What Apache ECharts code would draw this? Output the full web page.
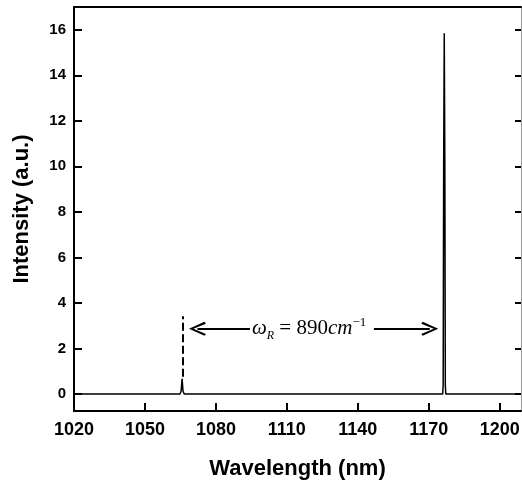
<!DOCTYPE html>
<html lang="en">
  <head>
    <meta charset="UTF-8" />
    <title>Raman spectrum</title>
    <style>
      html, body { margin: 0; padding: 0; background: #fff; }
      #chart { width: 522px; height: 484px; }
    </style>
  </head>
  <body>
    <div id="chart"></div>
    <script src="https://cdn.jsdelivr.net/npm/echarts@6/dist/echarts.min.js"></script>
    <script>
      // spectrum
      const wavelength = [1020, 1064.8, 1065.3, 1065.7, 1066.1, 1066.6, 1175.9, 1176.1, 1176.3, 1176.55, 1176.8, 1177.0, 1177.2, 1209];
      const intensity = [0, 0, 0.12, 0.66, 0.12, 0, 0, 0.4, 10, 15.85, 10, 0.4, 0, 0];

      const xTicks = [1020, 1050, 1080, 1110, 1140, 1170, 1200];
      const yTicks = [0, 2, 4, 6, 8, 10, 12, 14, 16];

      // annotation: dashed marker at the pump line, arrows and label
      const markerX = 1065.8;
      const markerY = [0.75, 3.41];
      const arrowY = 2.86;
      const leftArrow = [1094.4, 1072.2];
      const rightArrow = [1146.8, 1170.4];
      const labelPos = [1119.4, 2.86];

      const chevron = "path://M7,0 L14,15.5 L12.2,17 L7,4.5 L1.8,17 L0,15.5 Z";
      const sans = "Liberation Sans, Arial, sans-serif";
      const serif = "Liberation Serif, Times New Roman, serif";

      const chart = echarts.init(document.getElementById("chart"));
      const option = {
        animation: false,
        grid: { left: 74, right: 1, top: 7, bottom: 73, outerBoundsMode: "none" },
        xAxis: [
          {
            type: "value",
            min: 1020,
            max: 1209,
            name: "Wavelength (nm)",
            nameLocation: "middle",
            nameGap: 47,
            nameTextStyle: { fontFamily: sans, fontWeight: "bold", fontSize: 22, color: "#000" },
            axisLine: { onZero: false, lineStyle: { color: "#000", width: 2 } },
            axisTick: { inside: true, length: 8, lineStyle: { color: "#000", width: 2 }, customValues: xTicks },
            axisLabel: {
              customValues: xTicks,
              formatter: (v) => String(v),
              margin: 10,
              fontFamily: sans,
              fontWeight: "bold",
              fontSize: 18,
              color: "#000"
            },
            splitLine: { show: false }
          },
          {
            type: "value",
            position: "top",
            min: 1020,
            max: 1209,
            axisLine: { onZero: false, lineStyle: { color: "#000", width: 2 } },
            axisTick: { show: false },
            axisLabel: { show: false },
            splitLine: { show: false }
          }
        ],
        yAxis: [
          {
            type: "value",
            min: -0.75,
            max: 17,
            name: "Intensity (a.u.)",
            nameLocation: "middle",
            nameGap: 41,
            nameTextStyle: { fontFamily: sans, fontWeight: "bold", fontSize: 22, color: "#000" },
            axisLine: { show: true, onZero: false, lineStyle: { color: "#000", width: 2 } },
            axisTick: { show: true, inside: true, length: 8, lineStyle: { color: "#000", width: 2 }, customValues: yTicks },
            axisLabel: { customValues: yTicks, margin: 8, fontFamily: sans, fontWeight: "bold", fontSize: 15, color: "#000" },
            splitLine: { show: false }
          },
          {
            type: "value",
            position: "right",
            min: -0.75,
            max: 17,
            axisLine: { show: true, onZero: false, lineStyle: { color: "#999", width: 1 } },
            axisTick: { show: true, inside: true, length: 6, lineStyle: { color: "#000", width: 2 }, customValues: yTicks },
            axisLabel: { show: false },
            splitLine: { show: false }
          }
        ],
        series: [
          {
            type: "line",
            data: wavelength.map((w, i) => [w, intensity[i]]),
            showSymbol: false,
            lineStyle: { color: "#000", width: 1.5 },
            markLine: {
              silent: true,
              symbol: "none",
              label: { show: false },
              lineStyle: { color: "#000", width: 2, type: "solid" },
              data: [
                [
                  { coord: [markerX, markerY[0]], lineStyle: { type: [8, 3.5], width: 2, color: "#000" } },
                  { coord: [markerX, markerY[1]] }
                ],
                [
                  { coord: [leftArrow[0], arrowY], symbol: "none" },
                  { coord: [leftArrow[1], arrowY], symbol: chevron, symbolSize: [14, 17] }
                ],
                [
                  { coord: [rightArrow[0], arrowY], symbol: "none" },
                  { coord: [rightArrow[1], arrowY], symbol: chevron, symbolSize: [14, 17] }
                ]
              ]
            }
          },
          {
            type: "scatter",
            data: [labelPos],
            symbolSize: 0,
            silent: true,
            itemStyle: { opacity: 1, color: "#000" },
            label: {
              show: true,
              position: "inside",
              color: "#000",
              opacity: 1,
              textBorderWidth: 0,
              formatter: "{w|ω}{s|R}{n| = 890}{w|cm}{p|−1}",
              rich: {
                w: { fontFamily: serif, fontStyle: "italic", fontSize: 21, lineHeight: 26, color: "#000", textBorderWidth: 0 },
                n: { fontFamily: serif, fontSize: 21, lineHeight: 26, color: "#000", textBorderWidth: 0 },
                s: { fontFamily: serif, fontStyle: "italic", fontSize: 12, lineHeight: 12, verticalAlign: "bottom", color: "#000", textBorderWidth: 0 },
                p: { fontFamily: serif, fontSize: 13, lineHeight: 12, verticalAlign: "top", color: "#000", textBorderWidth: 0 }
              }
            }
          }
        ]
      };
      chart.setOption(option);
    </script>
  </body>
</html>
